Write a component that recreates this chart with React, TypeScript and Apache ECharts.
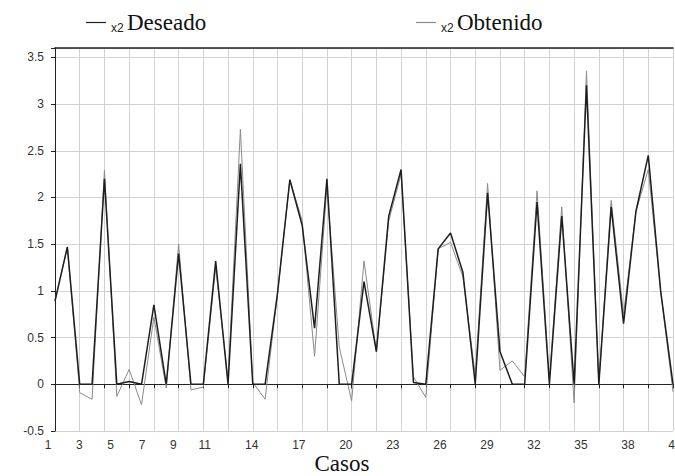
import React, { useEffect, useRef } from "react";
import * as echarts from "echarts";

// Sample index (0..50) values
const deseado = [
  0.89, 1.47, 0, 0, 2.2, 0, 0.03, 0, 0.85, 0, 1.4, 0, 0, 1.32, 0, 2.36, 0, 0,
  0.97, 2.19, 1.7, 0.6, 2.2, 0, 0, 1.1, 0.35, 1.8, 2.3, 0.02, 0, 1.45, 1.62,
  1.2, 0, 2.05, 0.35, 0, 0, 1.95, 0, 1.8, 0, 3.2, 0, 1.9, 0.65, 1.85, 2.45, 1.0,
  0,
];
const obtenido = [
  0.9, 1.47, -0.09, -0.16, 2.29, -0.13, 0.16, -0.22, 0.72, -0.04, 1.5, -0.06,
  -0.03, 1.25, 0.05, 2.73, 0.02, -0.16, 0.97, 2.19, 1.75, 0.3, 2.11, 0.4,
  -0.18, 1.32, 0.35, 1.75, 2.25, 0.08, -0.14, 1.45, 1.52, 1.15, 0.1, 2.15,
  0.15, 0.25, 0.08, 2.07, 0.05, 1.9, -0.2, 3.35, 0.02, 1.97, 0.75, 1.85, 2.3,
  1.0, -0.08,
];
// Case labels shown on the x axis
const caseLabels = [1, 3, 5, 7, 9, 11, 14, 17, 20, 23, 26, 29, 32, 35, 38, 41];
const caseMin = 1;
const caseMax = 41;
const yMin = -0.5;
const yMax = 3.6;
const yStep = 0.5;

const seriesNames = ["Deseado", "Obtenido"];

export default function App() {
  const ref = useRef<HTMLDivElement>(null);
  useEffect(() => {
    if (!ref.current) return;
    const chart = echarts.init(ref.current, null, { renderer: "svg" });
    const lastIdx = deseado.length - 1;
    const legendText = (name: string) => `{x|x2} {n|${name}}`;
    const legendRich = {
      x: {
        fontFamily: "Liberation Sans",
        fontSize: 12,
        color: "#222",
        verticalAlign: "bottom",
        padding: [6, 0, 0, 0],
      },
      n: {
        fontFamily: "Liberation Serif",
        fontSize: 23,
        color: "#111",
      },
    };
    chart.setOption({
      animation: false,
      backgroundColor: "#fff",
      legend: [
        {
          data: [seriesNames[0]],
          left: 81,
          top: 6,
          icon: "rect",
          itemWidth: 20,
          itemHeight: 1.2,
          itemGap: 2,
          formatter: legendText,
          textStyle: { rich: legendRich },
        },
        {
          data: [seriesNames[1]],
          left: 411,
          top: 6,
          icon: "rect",
          itemWidth: 20,
          itemHeight: 1.2,
          formatter: legendText,
          textStyle: { rich: legendRich },
        },
      ],
      grid: [
        { left: 55, right: 2, top: 48, bottom: 45, containLabel: false, outerBoundsMode: "none" },
        { left: 48, right: 0, top: 48, bottom: 45, containLabel: false, outerBoundsMode: "none" },
      ],
      xAxis: [
        {
          type: "value",
          gridIndex: 0,
          min: 0,
          max: lastIdx,
          interval: 2,
          axisLine: { show: true, lineStyle: { color: "#222", width: 1 } },
          axisTick: { show: true, length: 4, lineStyle: { color: "#222" } },
          axisLabel: { show: false },
          splitLine: { show: true, lineStyle: { color: "#d2d2d2", width: 1 } },
        },
        {
          type: "value",
          gridIndex: 1,
          min: caseMin,
          max: caseMax,
          interval: 1,
          axisLine: { show: false },
          axisTick: { show: false },
          splitLine: { show: false },
          axisLabel: {
            show: true,
            margin: 8,
            fontFamily: "Liberation Sans",
            fontSize: 12,
            color: "#333",
            formatter: (v: number) =>
              caseLabels.indexOf(Math.round(v)) >= 0 && Math.abs(v - Math.round(v)) < 1e-6
                ? String(Math.round(v))
                : "",
          },
        },
        {
          type: "value",
          gridIndex: 0,
          position: "top",
          min: 0,
          max: lastIdx,
          axisLine: { show: true, lineStyle: { color: "#222", width: 1.5 } },
          axisTick: { show: false },
          axisLabel: { show: false },
          splitLine: { show: false },
        },
      ],
      yAxis: [
        {
          type: "value",
          gridIndex: 0,
          min: yMin,
          max: yMax,
          interval: yStep,
          axisLine: { show: true, lineStyle: { color: "#222", width: 1 } },
          axisTick: { show: true, length: 4, lineStyle: { color: "#222" } },
          axisLabel: {
            margin: 11,
            fontFamily: "Liberation Sans",
            fontSize: 12,
            color: "#333",
            formatter: (v: number) => {
              const k = v / yStep;
              return Math.abs(k - Math.round(k)) < 1e-6 ? String(Math.round(k) * yStep) : "";
            },
          },
          splitLine: { show: true, lineStyle: { color: "#d2d2d2", width: 1 } },
        },
        { type: "value", gridIndex: 1, show: false, min: yMin, max: yMax },
      ],
      graphic: [
        {
          type: "text",
          x: 342,
          y: 463,
          style: {
            text: "Casos",
            fontFamily: "Liberation Serif",
            fontSize: 23,
            fill: "#111",
            textAlign: "center",
            textVerticalAlign: "middle",
          },
        },
      ],
      series: [
        {
          name: seriesNames[1],
          type: "line",
          xAxisIndex: 0,
          yAxisIndex: 0,
          data: obtenido.map((v, i) => [i, v]),
          symbol: "none",
          lineStyle: { color: "#8a8a8a", width: 1 },
          itemStyle: { color: "#8a8a8a" },
          z: 2,
        },
        {
          name: seriesNames[0],
          type: "line",
          xAxisIndex: 0,
          yAxisIndex: 0,
          data: deseado.map((v, i) => [i, v]),
          symbol: "none",
          lineStyle: { color: "#1e1e1e", width: 1.5 },
          itemStyle: { color: "#1e1e1e" },
          z: 3,
        },
      ],
    });
    return () => chart.dispose();
  }, []);
  return (
    <div
      ref={ref}
      style={{ position: "absolute", left: 0, top: 0, width: 675, height: 476 }}
    />
  );
}
